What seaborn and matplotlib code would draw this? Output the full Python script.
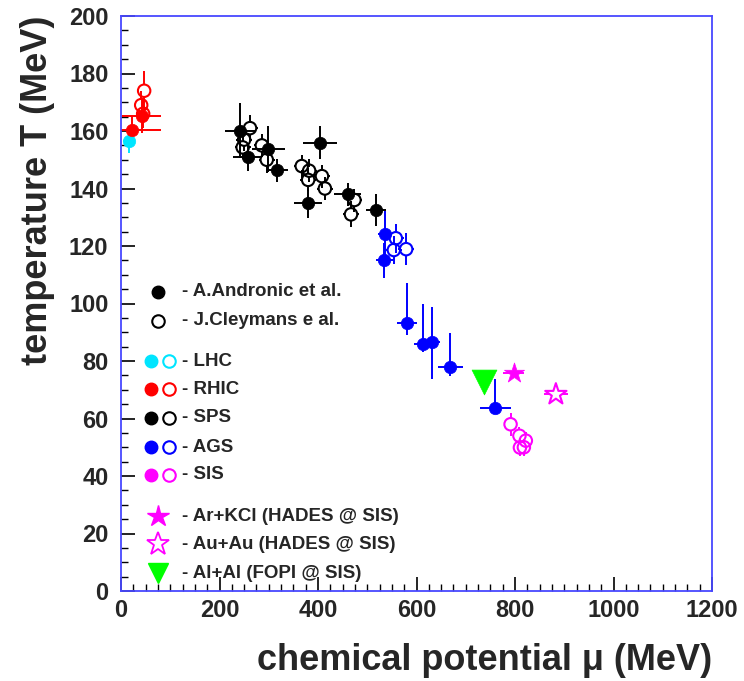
import numpy as np
import pandas as pd
import matplotlib
matplotlib.use("Agg")
import matplotlib.pyplot as plt
from matplotlib.ticker import MultipleLocator
import seaborn as sns

# ---------------- data: chemical freeze-out points (mu_B, T) in MeV ----------------
# LHC (Andronic et al.)
lhc_mu = [17]
lhc_T = [156.5]
lhc_xerr = [12]
lhc_yerr = [4]

# RHIC (Andronic et al.)
rhic_f_mu = [22, 42]
rhic_f_T = [160.3, 165.2]
rhic_f_xerr_lo = [21, 40]
rhic_f_xerr_hi = [59, 40]
rhic_f_yerr = [5, 6]
# RHIC (Cleymans et al.)
rhic_o_mu = [47, 41, 45]
rhic_o_T = [174.0, 169.0, 166.0]
rhic_o_xerr = [0, 0, 0]
rhic_o_yerr = [7, 5, 5]

# SPS (Andronic et al.)
sps_f_mu = [242, 257, 299, 317, 404, 380, 460, 518]
sps_f_T = [160.1, 151.0, 153.6, 146.4, 156.0, 134.8, 138.0, 132.5]
sps_f_xerr = [30, 30, 34, 22, 34, 29, 28, 21]
sps_f_yerr = [9.5, 5, 8, 4, 5.6, 5.2, 4, 5.5]
# SPS (Cleymans et al.)
sps_o_mu = [262, 250, 247, 286, 296, 367, 382, 380, 408, 414, 474, 467]
sps_o_T = [161.0, 157.0, 154.3, 155.0, 150.0, 147.8, 146.2, 143.0, 144.3, 140.0, 136.0, 131.0]
sps_o_xerr = [16, 16, 16, 16, 16, 16, 16, 16, 16, 16, 16, 16]
sps_o_yerr = [4.5, 4, 4, 4, 4.5, 4, 4, 4, 4, 4, 4, 4.5]

# AGS (Andronic et al.)
ags_f_mu = [536, 535, 580, 614, 631, 669, 760]
ags_f_T = [124.2, 115.0, 93.1, 86.0, 86.7, 77.8, 63.7]
ags_f_xerr = [15, 18, 20, 20, 17, 25, 31]
ags_f_yerr_lo = [8, 6, 4, 3, 13, 3, 2]
ags_f_yerr_hi = [8, 6, 14, 14, 12, 12, 10]
# AGS (Cleymans et al.)
ags_o_mu = [558, 554, 579]
ags_o_T = [122.7, 118.6, 118.9]
ags_o_xerr = [16, 16, 16]
ags_o_yerr = [5, 5, 5.5]

# SIS (Cleymans et al.)
sis_o_mu = [791, 809, 822, 810, 818]
sis_o_T = [58.0, 54.0, 52.3, 49.9, 50.0]
sis_o_xerr = [0, 0, 0, 0, 0]
sis_o_yerr = [4, 3, 3, 3, 3]

# HADES and FOPI at SIS
arkcl_mu, arkcl_T, arkcl_xerr = [797], [75.7], [21]
auau_mu, auau_T, auau_xerr = [883], [68.4], [24]
alal_mu, alal_T = [737], [72.8]

# ---------------- styling ----------------
CYAN = "#00e5ff"
RED = "#ff0000"
BLACK = "#000000"
BLUE = "#0000ff"
MAGENTA = "#ff00ff"
GREEN = "#00ff00"
FRAME = "#4848ff"

sns.set_theme(style="white")
plt.rcParams["font.family"] = ["Liberation Sans", "DejaVu Sans"]
plt.rcParams["font.weight"] = "bold"

fig = plt.figure(figsize=(7.44, 6.81), dpi=100)
ax = fig.add_axes([121 / 744, 1 - 591 / 681, 591 / 744, 575 / 681])
ax.set_xlim(0, 1200)
ax.set_ylim(0, 200)

EB = dict(fmt="none", elinewidth=1.4, capsize=0, zorder=2)
S_DOT = 80
LW_OPEN = 1.5
# hollow-marker radius expressed in data units (ROOT-style bars stop at the marker edge)
R_PX = 5.8
RX = R_PX * 1200 / 591
RY = R_PX * 200 / 575


def frame(mu, T):
    return pd.DataFrame({"mu": mu, "T": T})


def filled(mu, T, col, s=S_DOT, marker="o"):
    sns.scatterplot(data=frame(mu, T), x="mu", y="T", ax=ax, marker=marker, s=s,
                    color=col, edgecolor=col, linewidth=0.5, zorder=3, legend=False)


def hollow(mu, T, col, s=S_DOT, marker="o"):
    sns.scatterplot(data=frame(mu, T), x="mu", y="T", ax=ax, marker=marker, s=s,
                    color=col, facecolor="none", edgecolor=col, linewidth=LW_OPEN,
                    zorder=4, legend=False)


def bars_outside(mu, T, xerr, yerr, col):
    """Error bars that leave the inside of a hollow marker empty."""
    mu, T = np.asarray(mu, float), np.asarray(T, float)
    xerr, yerr = np.asarray(xerr, float), np.asarray(yerr, float)
    kw = dict(colors=col, linewidth=1.4, zorder=2)
    mx = xerr > RX
    ax.hlines(T[mx], (mu + RX)[mx], (mu + xerr)[mx], **kw)
    ax.hlines(T[mx], (mu - xerr)[mx], (mu - RX)[mx], **kw)
    my = yerr > RY
    ax.vlines(mu[my], (T + RY)[my], (T + yerr)[my], **kw)
    ax.vlines(mu[my], (T - yerr)[my], (T - RY)[my], **kw)


# error bars
ax.errorbar(lhc_mu, lhc_T, xerr=lhc_xerr, yerr=lhc_yerr, ecolor=CYAN, **EB)
ax.errorbar(rhic_f_mu, rhic_f_T, xerr=[rhic_f_xerr_lo, rhic_f_xerr_hi], yerr=rhic_f_yerr,
            ecolor=RED, **EB)
bars_outside(rhic_o_mu, rhic_o_T, rhic_o_xerr, rhic_o_yerr, RED)
ax.errorbar(sps_f_mu, sps_f_T, xerr=sps_f_xerr, yerr=sps_f_yerr, ecolor=BLACK, **EB)
bars_outside(sps_o_mu, sps_o_T, sps_o_xerr, sps_o_yerr, BLACK)
ax.errorbar(ags_f_mu, ags_f_T, xerr=ags_f_xerr, yerr=[ags_f_yerr_lo, ags_f_yerr_hi],
            ecolor=BLUE, **EB)
bars_outside(ags_o_mu, ags_o_T, ags_o_xerr, ags_o_yerr, BLUE)
bars_outside(sis_o_mu, sis_o_T, sis_o_xerr, sis_o_yerr, MAGENTA)
ax.errorbar(arkcl_mu, arkcl_T, xerr=arkcl_xerr, ecolor=MAGENTA, **EB)
bars_outside(auau_mu, auau_T, auau_xerr, [0], MAGENTA)

# markers
filled(lhc_mu, lhc_T, CYAN)
filled(rhic_f_mu, rhic_f_T, RED)
hollow(rhic_o_mu, rhic_o_T, RED)
filled(sps_f_mu, sps_f_T, BLACK)
hollow(sps_o_mu, sps_o_T, BLACK)
filled(ags_f_mu, ags_f_T, BLUE)
hollow(ags_o_mu, ags_o_T, BLUE)
hollow(sis_o_mu, sis_o_T, MAGENTA)
filled(arkcl_mu, arkcl_T, MAGENTA, s=230, marker="*")
hollow(auau_mu, auau_T, MAGENTA, s=260, marker="*")
filled(alal_mu, alal_T, GREEN, s=320, marker="v")

# axes
ax.set_xlim(0, 1200)
ax.set_ylim(0, 200)
ax.xaxis.set_major_locator(MultipleLocator(200))
ax.xaxis.set_minor_locator(MultipleLocator(25))
ax.yaxis.set_major_locator(MultipleLocator(20))
ax.yaxis.set_minor_locator(MultipleLocator(5))
ax.tick_params(axis="both", which="major", direction="in", length=10, width=1.2,
               color="black", labelsize=17, bottom=True, left=True)
ax.tick_params(axis="y", which="major", pad=9)
ax.tick_params(axis="x", which="major", pad=6)
ax.tick_params(axis="both", which="minor", direction="in", length=5, width=1.0,
               color="black", bottom=True, left=True)
for lab in ax.get_xticklabels() + ax.get_yticklabels():
    lab.set_fontweight("bold")
for sp in ax.spines.values():
    sp.set_color(FRAME)
    sp.set_linewidth(1.3)
ax.grid(False)

ax.set_ylabel("temperature T (MeV)", fontsize=26, fontweight="bold", loc="top")
ax.yaxis.label.set(ha="right", va="center", rotation_mode="anchor")
ax.yaxis.set_label_coords(-0.142, 1.0)
ax.set_xlabel("chemical potential μ (MeV)", fontsize=26, fontweight="bold", loc="right")
ax.xaxis.label.set(ha="right", va="center")
ax.xaxis.set_label_coords(1.0, -0.12)

# hand-made legend in axes fraction coordinates
tA = ax.transAxes
TXT = dict(fontsize=13.5, fontweight="bold", va="center", ha="left", transform=tA)
XM1, XM2, XS, XT = 0.0626, 0.0812, 0.0508, 0.103

ax.plot([XM1], [0.520], "o", ms=9, color=BLACK, transform=tA, clip_on=False)
ax.text(XT, 0.520, "- A.Andronic et al.", **TXT)
ax.plot([XM1], [0.4696], "o", ms=9, mfc="none", mec=BLACK, mew=1.5, transform=tA)
ax.text(XT, 0.4696, "- J.Cleymans e al.", **TXT)

for yy, col, name in [(0.400, CYAN, "LHC"), (0.351, RED, "RHIC"), (0.301, BLACK, "SPS"),
                      (0.250, BLUE, "AGS"), (0.202, MAGENTA, "SIS")]:
    ax.plot([XS], [yy], "o", ms=9, color=col, transform=tA)
    ax.plot([XM2], [yy], "o", ms=9, mfc="none", mec=col, mew=1.5, transform=tA)
    ax.text(XT, yy, "- " + name, **TXT)

ax.plot([XM1], [0.130], "*", ms=16, color=MAGENTA, transform=tA)
ax.text(XT, 0.130, "- Ar+KCl (HADES @ SIS)", **TXT)
ax.plot([XM1], [0.0817], "*", ms=17, mfc="none", mec=MAGENTA, mew=1.3, transform=tA)
ax.text(XT, 0.0817, "- Au+Au (HADES @ SIS)", **TXT)
ax.plot([XM1], [0.0313], "v", ms=14, color=GREEN, transform=tA)
ax.text(XT, 0.0313, "- Al+Al (FOPI @ SIS)", **TXT)

fig.savefig("out.png", dpi=100, facecolor="white")
